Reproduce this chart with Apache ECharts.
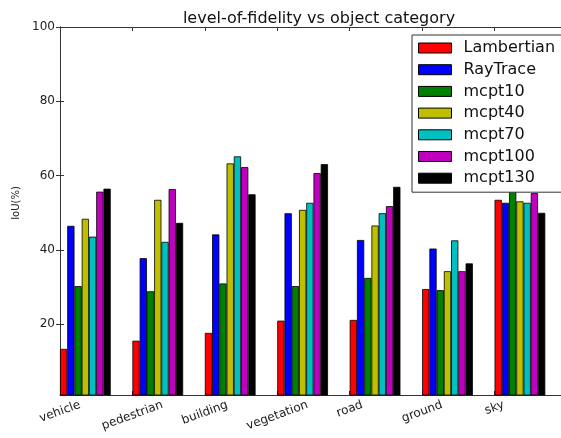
<!DOCTYPE html>
<html>
<head>
<meta charset="utf-8">
<script src="https://cdn.jsdelivr.net/npm/echarts@6/dist/echarts.min.js"></script>
<style>html,body{margin:0;padding:0;background:#fff;overflow:hidden;width:561px;height:438px;}#c{width:640px;height:438px;}</style>
</head>
<body>
<div id="c"></div>
<script>
const categories = ['vehicle', 'pedestrian', 'building', 'vegetation', 'road', 'ground', 'sky'];
const seriesNames = ['Lambertian', 'RayTrace', 'mcpt10', 'mcpt40', 'mcpt70', 'mcpt100', 'mcpt130'];
const lambertian = [13.4, 15.6, 17.7, 21.0, 21.2, 29.5, 53.5];
const rayTrace   = [46.5, 37.8, 44.2, 49.9, 42.7, 40.4, 52.7];
const mcpt10     = [30.3, 28.9, 31.0, 30.3, 32.5, 29.2, 58.0];
const mcpt40     = [48.4, 53.5, 63.3, 50.8, 46.6, 34.3, 53.1];
const mcpt70     = [43.6, 42.2, 65.2, 52.7, 49.9, 42.6, 52.7];
const mcpt100    = [55.7, 56.4, 62.3, 60.7, 51.8, 34.3, 55.3];
const mcpt130    = [56.5, 47.3, 55.0, 63.1, 57.0, 36.4, 50.0];
const yTicks = [20, 40, 60, 80, 100];

const seriesValues = [lambertian, rayTrace, mcpt10, mcpt40, mcpt70, mcpt100, mcpt130];
const colors = ['#ff0000', '#0000ff', '#008000', '#bfbf00', '#00bfbf', '#bf00bf', '#000000'];
const FONT = '"DejaVu Sans", "Bitstream Vera Sans", sans-serif';

// matplotlib-like rotated label placement (rotation 20deg, ha=center, va=top)
const ROT = 20 * Math.PI / 180;
const cv = document.createElement('canvas').getContext('2d');
cv.font = '12px "DejaVu Sans"';
const rich = {};
categories.forEach((c, i) => {
  const w = cv.measureText(c).width;
  const d = 0.171 * w;
  rich['l' + i] = {
    fontSize: 12, fontFamily: FONT, color: '#222',
    padding: [2 * d * Math.cos(ROT), 2 * d * Math.sin(ROT), 0, 0]
  };
});

const barWidthUnit = 0.1;
const series = seriesNames.map((name, k) => ({
  name: name,
  type: 'bar',
  barWidth: 7.25,
  barGap: '-100%',
  clip: true,
  itemStyle: { color: colors[k], borderColor: '#000', borderWidth: 0.8 },
  emphasis: { disabled: true },
  data: seriesValues[k].map((v, i) => [i + barWidthUnit * (k + 0.5), v])
}));

const chart = echarts.init(document.getElementById('c'), null, { renderer: 'canvas' });
chart.setOption({
  animation: false,
  backgroundColor: '#fff',
  textStyle: { fontFamily: FONT },
  title: {
    text: 'level-of-fidelity vs object category',
    left: 314, top: 6, textAlign: 'center',
    textStyle: { fontSize: 16, fontWeight: 'normal', color: '#111', fontFamily: FONT }
  },
  legend: {
    orient: 'vertical',
    left: 412, top: 35,
    itemWidth: 33, itemHeight: 10, itemGap: 5.7,
    padding: [5, 60, 6, 6],
    borderColor: '#333', borderWidth: 1,
    backgroundColor: '#fff',
    z: 10,
    icon: 'rect',
    itemStyle: { borderColor: '#000', borderWidth: 1 },
    textStyle: { fontSize: 16, color: '#111', fontFamily: FONT, padding: [0, 0, 0, 7] },
    data: seriesNames
  },
  grid: { left: 60, top: 27, width: 507, height: 368, containLabel: false, outerBoundsMode: 'none' },
  xAxis: [
    {
      type: 'value', position: 'bottom', min: 0, max: 7, interval: 1,
      splitLine: { show: false },
      axisLine: { show: true, lineStyle: { color: '#333', width: 1 } },
      axisTick: { show: true, inside: true, length: 4, lineStyle: { color: '#333' } },
      axisLabel: {
        rotate: 20, align: 'center', verticalAlign: 'middle', margin: 9.5,
        showMinLabel: true, showMaxLabel: false,
        fontSize: 12, color: '#222', fontFamily: FONT,
        formatter: v => (categories[v] !== undefined ? '{l' + v + '|' + categories[v] + '}' : ''),
        rich: rich
      }
    },
    {
      type: 'value', position: 'top', min: 0, max: 7, interval: 1,
      splitLine: { show: false },
      axisLine: { show: true, lineStyle: { color: '#333', width: 1 } },
      axisTick: { show: true, inside: true, length: 4, lineStyle: { color: '#333' } },
      axisLabel: { show: false }
    }
  ],
  yAxis: [
    {
      type: 'value', position: 'left', min: 1, max: 100,
      name: 'IoU(%)', nameLocation: 'middle', nameGap: 34, nameRotate: 90,
      nameTextStyle: { fontSize: 10, color: '#222', fontFamily: FONT, padding: [0, 0, 0, 16] },
      splitLine: { show: false },
      axisLine: { show: true, lineStyle: { color: '#333', width: 1 } },
      axisTick: { show: true, inside: true, length: 4, lineStyle: { color: '#333' }, customValues: yTicks },
      axisLabel: { fontSize: 12, color: '#222', margin: 5, fontFamily: FONT, customValues: yTicks }
    },
    {
      type: 'value', position: 'right', min: 1, max: 100,
      splitLine: { show: false },
      axisLine: { show: true, lineStyle: { color: '#333', width: 1 } },
      axisTick: { show: true, inside: true, length: 4, lineStyle: { color: '#333' }, customValues: yTicks },
      axisLabel: { show: false }
    }
  ],
  series: series
});
</script>
</body>
</html>
